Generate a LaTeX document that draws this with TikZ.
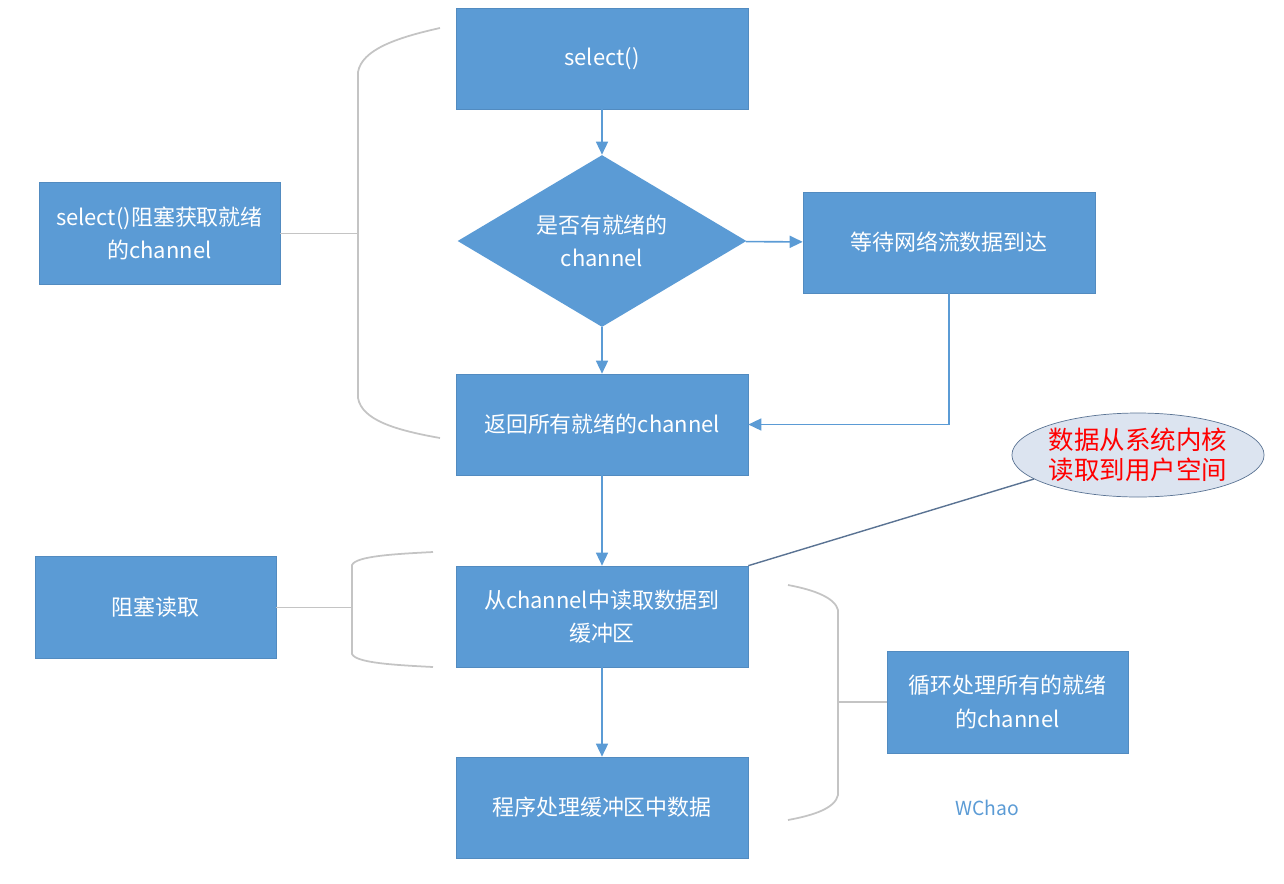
\documentclass[tikz,border=0pt]{standalone}
\usepackage{fontspec}
\setmainfont{Noto Sans CJK SC}
\usepackage{xcolor}
\usepackage{tikz}
\usetikzlibrary{positioning,arrows.meta,shapes.geometric,calc}
\definecolor{flowblue}{HTML}{5B9BD5}
\definecolor{bracegray}{HTML}{C4C4C4}
\definecolor{notefill}{HTML}{DCE4F0}
\definecolor{noteline}{HTML}{5A7393}
\tikzset{
  box/.style={draw=flowblue!90!black,fill=flowblue,text=white,align=center,
              minimum width=5.84cm,minimum height=2.02cm,inner sep=3pt,
              font=\fontsize{12.5}{19}\selectfont},
  sidebox/.style={box,minimum width=4.82cm,minimum height=2.04cm},
  decision/.style={diamond,fill=flowblue,text=white,align=center,aspect=1.68,
                   minimum width=5.78cm,minimum height=3.44cm,inner sep=0pt,
                   font=\fontsize{12.5}{19}\selectfont},
  note/.style={ellipse,draw=noteline,fill=notefill,text=red,align=center,
               minimum width=4.8cm,minimum height=1.68cm,inner sep=0pt,
               font=\fontsize{14.5}{17}\selectfont},
  arr/.style={-{Triangle[length=2.6mm,width=2.4mm]},draw=flowblue,line width=0.9pt},
  brace/.style={draw=bracegray,line width=1pt}
}
\begin{document}
\begin{tikzpicture}[x=0.02cm,y=-0.02cm]
  \useasboundingbox (0,0) rectangle (1284,883);
  % main column
  \node[box] (sel) at (602,58.5) {select()};
  \node[decision] (ready) at (602,241) {是否有就绪的\\channel};
  \node[box] (wait) at (949,242.5) {等待网络流数据到达};
  \node[box] (ret) at (602,424.5) {返回所有就绪的channel};
  \node[box] (read) at (602,616.5) {从channel中读取数据到\\缓冲区};
  \node[box] (proc) at (602,807.5) {程序处理缓冲区中数据};
  % side notes
  \node[sidebox] (selblock) at (159.5,233.5) {select()阻塞获取就绪\\的channel};
  \node[sidebox] (readblock) at (155.5,607.5) {阻塞读取};
  \node[sidebox] (loop) at (1007.5,702) {循环处理所有的就绪\\的channel};
  \node[note] (kernel) at (1138,455) {数据从系统内核\\读取到用户空间};
  \node[text=flowblue,font=\fontsize{11}{13}\selectfont] (author) at (987,808) {WChao};
  % arrows
  \draw[arr] (sel) -- (ready);
  \draw[arr] (ready) -- (ret);
  \draw[arr] (ready) -- (wait);
  \draw[arr] (wait.south) |- (ret.east);
  \draw[arr] (ret) -- (read);
  \draw[arr] (read) -- (proc);
  \draw[noteline,line width=0.8pt] (read.north east) -- (kernel.193);
  % braces
  \draw[brace] (440,28) .. controls (395,38) and (362,50) .. (358,72) -- (358,398)
    .. controls (362,420) and (395,430) .. (440,438);
  \draw[brace] (selblock.east) -- ++(78,0);
  \draw[brace] (433,552) .. controls (395,554) and (356,556) .. (352,565) -- (352,654)
    .. controls (356,663) and (395,665) .. (433,667);
  \draw[brace] (readblock.east) -- ++(76,0);
  \draw[brace] (788,585) .. controls (815,590) and (835,598) .. (838,610) -- (838,795)
    .. controls (835,808) and (815,815) .. (788,820);
  \draw[brace] (loop.west) -- ++(-49,0);
\end{tikzpicture}
\end{document}
